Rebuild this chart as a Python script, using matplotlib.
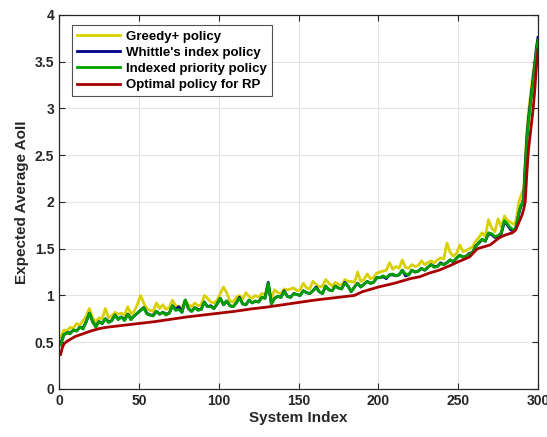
import matplotlib
matplotlib.use("Agg")
import matplotlib.pyplot as plt

plt.rcParams['font.family'] = ['Liberation Sans', 'DejaVu Sans']
plt.rcParams['font.weight'] = 'bold'

# system index for the noisy curves (every 2nd system, then every system in the tail)
system_idx = list(range(1, 286, 2)) + list(range(286, 301))

greedy = [
    0.55, 0.63, 0.62, 0.66, 0.65, 0.70, 0.68, 0.73, 0.78, 0.86,
    0.76, 0.72, 0.76, 0.75, 0.86, 0.76, 0.78, 0.82, 0.80, 0.81,
    0.79, 0.88, 0.80, 0.83, 0.90, 1.00, 0.92, 0.86, 0.84, 0.83,
    0.92, 0.86, 0.90, 0.85, 0.87, 0.95, 0.89, 0.88, 0.87, 0.95,
    0.90, 0.88, 0.92, 0.89, 0.90, 1.00, 0.97, 0.93, 0.92, 0.95,
    1.02, 1.09, 1.03, 0.94, 0.93, 0.98, 1.00, 0.96, 1.03, 0.99,
    0.97, 1.00, 0.98, 1.02, 1.01, 1.12, 0.97, 1.06, 1.03, 1.02,
    1.07, 1.06, 1.07, 1.08, 1.05, 1.06, 1.13, 1.08, 1.07, 1.15,
    1.12, 1.09, 1.10, 1.17, 1.13, 1.10, 1.14, 1.12, 1.11, 1.17,
    1.15, 1.15, 1.14, 1.25, 1.15, 1.17, 1.23, 1.18, 1.19, 1.24,
    1.25, 1.26, 1.27, 1.35, 1.28, 1.31, 1.29, 1.38, 1.30, 1.29,
    1.33, 1.31, 1.32, 1.37, 1.33, 1.35, 1.37, 1.35, 1.38, 1.40,
    1.39, 1.56, 1.46, 1.42, 1.45, 1.54, 1.47, 1.48, 1.50, 1.52,
    1.58, 1.62, 1.67, 1.63, 1.81, 1.72, 1.68, 1.82, 1.73, 1.85,
    1.80, 1.78, 1.76,
    1.78, 1.88, 2.00, 2.05, 2.10, 2.13, 2.45, 2.75, 2.95, 3.10,
    3.25, 3.40, 3.50, 3.62, 3.70,
]

whittle = [
    0.48, 0.58, 0.60, 0.60, 0.63, 0.62, 0.66, 0.65, 0.72, 0.81,
    0.72, 0.67, 0.72, 0.70, 0.75, 0.72, 0.73, 0.79, 0.75, 0.77,
    0.74, 0.80, 0.75, 0.78, 0.81, 0.84, 0.87, 0.81, 0.79, 0.79,
    0.83, 0.80, 0.82, 0.80, 0.81, 0.89, 0.85, 0.88, 0.82, 0.95,
    0.86, 0.83, 0.87, 0.85, 0.85, 0.93, 0.88, 0.89, 0.86, 0.91,
    0.97, 0.90, 0.94, 0.89, 0.88, 0.92, 0.98, 0.91, 0.90, 0.95,
    0.92, 0.94, 0.93, 0.98, 0.97, 1.14, 0.91, 0.97, 0.99, 0.98,
    1.05, 0.99, 0.98, 1.02, 1.01, 1.00, 1.05, 1.03, 1.02, 1.05,
    1.09, 1.04, 1.02, 1.10, 1.06, 1.05, 1.10, 1.08, 1.07, 1.14,
    1.10, 1.04, 1.09, 1.13, 1.09, 1.12, 1.15, 1.13, 1.14, 1.19,
    1.19, 1.20, 1.18, 1.22, 1.22, 1.21, 1.22, 1.27, 1.21, 1.22,
    1.27, 1.25, 1.26, 1.29, 1.27, 1.30, 1.33, 1.31, 1.31, 1.35,
    1.33, 1.35, 1.38, 1.36, 1.40, 1.43, 1.41, 1.42, 1.45, 1.46,
    1.53, 1.56, 1.60, 1.58, 1.66, 1.65, 1.62, 1.63, 1.66, 1.79,
    1.75, 1.70, 1.69,
    1.71, 1.79, 1.87, 1.94, 1.98, 2.04, 2.38, 2.68, 2.88, 3.03,
    3.18, 3.33, 3.48, 3.65, 3.76,
]

indexed = [
    0.47, 0.58, 0.60, 0.59, 0.63, 0.62, 0.66, 0.64, 0.72, 0.81,
    0.72, 0.66, 0.72, 0.70, 0.75, 0.71, 0.73, 0.79, 0.74, 0.77,
    0.73, 0.80, 0.74, 0.78, 0.81, 0.84, 0.87, 0.80, 0.79, 0.78,
    0.83, 0.80, 0.82, 0.79, 0.81, 0.89, 0.84, 0.85, 0.82, 0.95,
    0.86, 0.83, 0.87, 0.84, 0.85, 0.93, 0.88, 0.88, 0.86, 0.91,
    0.97, 0.90, 0.94, 0.89, 0.88, 0.92, 0.97, 0.91, 0.90, 0.95,
    0.92, 0.94, 0.93, 0.98, 0.97, 1.13, 0.91, 0.97, 0.99, 0.98,
    1.04, 0.99, 0.98, 1.02, 1.01, 1.00, 1.05, 1.03, 1.02, 1.05,
    1.08, 1.04, 1.02, 1.10, 1.06, 1.05, 1.10, 1.08, 1.07, 1.13,
    1.10, 1.04, 1.09, 1.13, 1.09, 1.12, 1.15, 1.13, 1.14, 1.19,
    1.19, 1.21, 1.19, 1.22, 1.23, 1.21, 1.22, 1.27, 1.23, 1.22,
    1.27, 1.25, 1.26, 1.29, 1.27, 1.30, 1.33, 1.30, 1.31, 1.34,
    1.33, 1.35, 1.38, 1.36, 1.40, 1.43, 1.41, 1.42, 1.44, 1.46,
    1.52, 1.57, 1.60, 1.58, 1.67, 1.66, 1.63, 1.64, 1.67, 1.80,
    1.76, 1.72, 1.70,
    1.72, 1.80, 1.88, 1.95, 1.98, 2.03, 2.35, 2.65, 2.85, 3.00,
    3.15, 3.30, 3.45, 3.62, 3.73,
]

# optimal policy for RP is smooth, so fewer points
optimal_idx = [1, 2, 3, 5, 8, 10, 15, 20, 25, 30, 35, 40, 50, 60, 70, 80, 90,
               100, 110, 120, 130, 140, 150, 160, 170, 180, 185, 190, 200, 210,
               220, 226, 232, 238, 245, 250, 257, 262, 270, 276, 280, 284, 286,
               288, 290, 291, 292, 293, 294, 295, 296, 297, 298, 299, 300]
optimal = [0.37, 0.44, 0.48, 0.51, 0.54, 0.56, 0.59, 0.62, 0.645, 0.66, 0.67,
           0.68, 0.70, 0.72, 0.745, 0.77, 0.79, 0.81, 0.83, 0.855, 0.875,
           0.90, 0.925, 0.95, 0.97, 0.99, 1.00, 1.04, 1.09, 1.13, 1.18, 1.20,
           1.24, 1.27, 1.32, 1.36, 1.41, 1.50, 1.54, 1.62, 1.65, 1.67, 1.70,
           1.78, 1.86, 1.92, 2.00, 2.30, 2.55, 2.70, 2.85, 3.00, 3.20, 3.45,
           3.63]

fig = plt.figure(figsize=(5.47, 4.37), dpi=100)
ax = fig.add_axes([0.108, 0.110, 0.8755, 0.8557])

ax.plot(system_idx, greedy, color='#d8d000', lw=2.0, label='Greedy+ policy')
ax.plot(system_idx, whittle, color='#00008c', lw=2.0, label="Whittle's index policy")
ax.plot(system_idx, indexed, color='#00a000', lw=2.0, label='Indexed priority policy')
ax.plot(optimal_idx, optimal, color='#a80000', lw=2.0, label='Optimal policy for RP')

ax.set_xlim(0, 300)
ax.set_ylim(0, 4)
ax.set_xticks([0, 50, 100, 150, 200, 250, 300])
ax.set_yticks([0, 0.5, 1, 1.5, 2, 2.5, 3, 3.5, 4])
ax.set_yticklabels(['0', '0.5', '1', '1.5', '2', '2.5', '3', '3.5', '4'])
ax.grid(True, color='#e3e3e3', lw=0.8)
ax.set_axisbelow(True)
ax.tick_params(direction='in', top=True, right=True, length=4, width=0.8,
               labelsize=10, colors='#262626')
for s in ax.spines.values():
    s.set_color('#262626')
    s.set_linewidth(0.9)

ax.set_xlabel('System Index', fontsize=11, fontweight='bold', color='#262626', labelpad=2)
ax.set_ylabel('Expected Average AoII', fontsize=11, fontweight='bold', color='#262626', labelpad=4)

leg = ax.legend(loc='upper left', bbox_to_anchor=(0.027, 0.973), fontsize=9.5,
                frameon=True, fancybox=False, handlelength=3.2, borderpad=0.4,
                labelspacing=0.3, handletextpad=0.5, borderaxespad=0)
leg.get_frame().set_edgecolor('#262626')
leg.get_frame().set_linewidth(0.8)
for t in leg.get_texts():
    t.set_fontweight('bold')

fig.savefig('out.png', dpi=100)
